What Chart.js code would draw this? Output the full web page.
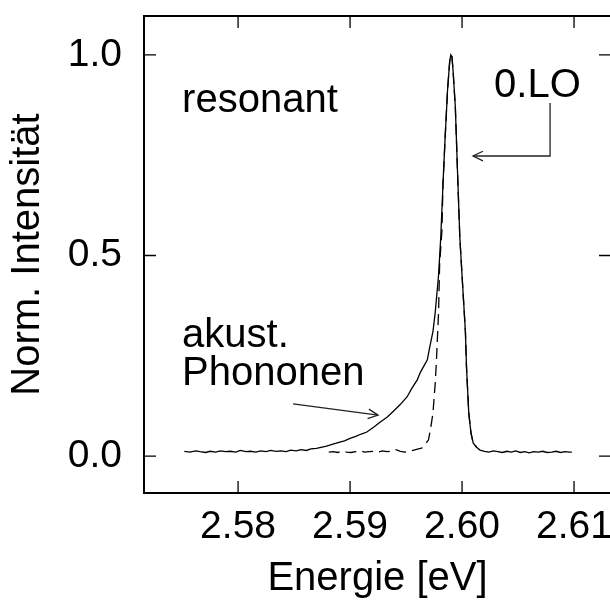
<!DOCTYPE html>
<html>
<head>
<meta charset="utf-8">
<script src="https://cdn.jsdelivr.net/npm/chart.js@4.4.1/dist/chart.umd.min.js"></script>
<style>
  html, body { margin: 0; padding: 0; background: #fff; overflow: hidden; }
</style>
</head>
<body>
<canvas id="plot" width="660" height="601"></canvas>
<script>
// tick labels
const xTicks = [2.58, 2.59, 2.60, 2.61];
const yTicks = [0.0, 0.5, 1.0];

// resonant spectrum (solid)
const solidE = [2.5752, 2.5757, 2.5762, 2.5766, 2.5771, 2.5775, 2.5780, 2.5784, 2.5789, 2.5793,
  2.5798, 2.5802, 2.5807, 2.5811, 2.5816, 2.5820, 2.5825, 2.5829, 2.5834, 2.5838,
  2.5843, 2.5847, 2.5852, 2.5856, 2.5861, 2.5865, 2.5870, 2.5874, 2.5879, 2.5884,
  2.5890, 2.5895, 2.5900, 2.5905, 2.5910, 2.5915, 2.5921, 2.5927, 2.5933, 2.5938,
  2.5945, 2.5951, 2.5955, 2.5960, 2.5963, 2.5966, 2.5969, 2.5971, 2.5974, 2.5976,
  2.5979, 2.5981, 2.5983, 2.5985, 2.5987, 2.5989, 2.5990, 2.5991, 2.5992, 2.5994,
  2.5996, 2.5998, 2.6000, 2.6003, 2.6004, 2.6006, 2.6008, 2.6010, 2.6013, 2.6016,
  2.6020, 2.6024, 2.6028, 2.6032, 2.6036, 2.6040, 2.6044, 2.6048, 2.6052, 2.6056,
  2.6060, 2.6064, 2.6068, 2.6072, 2.6076, 2.6080, 2.6084, 2.6088, 2.6092, 2.6096, 2.6098];
const solidI = [0.012, 0.010, 0.013, 0.011, 0.009, 0.012, 0.010, 0.013, 0.011, 0.012,
  0.010, 0.014, 0.011, 0.012, 0.010, 0.013, 0.011, 0.014, 0.012, 0.013,
  0.011, 0.015, 0.013, 0.016, 0.014, 0.018, 0.019, 0.022, 0.025, 0.029,
  0.034, 0.038, 0.044, 0.049, 0.055, 0.060, 0.072, 0.085, 0.097, 0.110,
  0.129, 0.148, 0.168, 0.190, 0.210, 0.225, 0.240, 0.270, 0.310, 0.357,
  0.450, 0.546, 0.680, 0.800, 0.910, 0.985, 1.000, 0.995, 0.960, 0.870,
  0.705, 0.546, 0.450, 0.310, 0.220, 0.107, 0.057, 0.032, 0.022, 0.015,
  0.012, 0.010, 0.013, 0.011, 0.009, 0.012, 0.010, 0.013, 0.009, 0.011,
  0.008, 0.011, 0.010, 0.012, 0.009, 0.010, 0.012, 0.009, 0.011, 0.010, 0.010];

// comparison spectrum (dashed)
const dashE = [2.5881, 2.5885, 2.5889, 2.5893, 2.5897, 2.5901, 2.5905, 2.5909, 2.5913, 2.5917,
  2.5921, 2.5925, 2.5929, 2.5933, 2.5937, 2.5941, 2.5945, 2.5949, 2.5953, 2.5957,
  2.5961, 2.5964, 2.5967, 2.5970, 2.5972, 2.5974, 2.5976, 2.5977, 2.5979, 2.5980,
  2.5982, 2.5983, 2.5985, 2.5987, 2.5989, 2.5990, 2.5991, 2.5992, 2.5994, 2.5996,
  2.5998, 2.6000, 2.6003, 2.6004, 2.6006, 2.6008, 2.6010, 2.6013];
const dashI = [0.010, 0.011, 0.009, 0.012, 0.010, 0.009, 0.011, 0.013, 0.010, 0.011,
  0.012, 0.010, 0.013, 0.011, 0.012, 0.016, 0.012, 0.010, 0.012, 0.015,
  0.018, 0.020, 0.030, 0.040, 0.070, 0.107, 0.180, 0.230, 0.357, 0.480,
  0.560, 0.680, 0.800, 0.910, 0.985, 1.000, 0.995, 0.960, 0.870, 0.705,
  0.546, 0.450, 0.310, 0.220, 0.107, 0.057, 0.032, 0.022];

const FONT = '"Liberation Sans", Arial, sans-serif';

const labels = [
  { text: 'resonant', x: 2.5750, y: 0.858 },
  { text: '0.LO', x: 2.60286, y: 0.896 },
  { text: 'akust.', x: 2.5750, y: 0.272 },
  { text: 'Phononen', x: 2.5750, y: 0.177 }
];
const arrows = [
  [[2.60786, 0.880], [2.60786, 0.748], [2.60098, 0.748]],
  [[2.58491, 0.130], [2.59250, 0.102]]
];

const framePlugin = {
  id: 'frame',
  afterDraw(chart) {
    const ctx = chart.ctx;
    const a = chart.chartArea;
    const xs = chart.scales.x, ys = chart.scales.y;
    ctx.save();
    ctx.strokeStyle = '#000';
    ctx.lineWidth = 2;
    ctx.strokeRect(a.left, a.top, a.right - a.left, a.bottom - a.top);
    ctx.lineWidth = 1.3;
    ctx.beginPath();
    xTicks.forEach(v => {
      const px = xs.getPixelForValue(v);
      ctx.moveTo(px, a.bottom); ctx.lineTo(px, a.bottom - 12);
      ctx.moveTo(px, a.top); ctx.lineTo(px, a.top + 12);
    });
    yTicks.forEach(v => {
      const py = ys.getPixelForValue(v);
      ctx.moveTo(a.left, py); ctx.lineTo(a.left + 12, py);
      ctx.moveTo(a.right, py); ctx.lineTo(a.right - 12, py);
    });
    ctx.stroke();

    // annotations
    ctx.fillStyle = '#000';
    ctx.font = '40px ' + FONT;
    ctx.textAlign = 'left';
    ctx.textBaseline = 'alphabetic';
    labels.forEach(l => ctx.fillText(l.text, xs.getPixelForValue(l.x), ys.getPixelForValue(l.y)));

    ctx.strokeStyle = '#222';
    ctx.lineWidth = 1.3;
    arrows.forEach(pts => {
      const p = pts.map(q => [xs.getPixelForValue(q[0]), ys.getPixelForValue(q[1])]);
      ctx.beginPath();
      ctx.moveTo(p[0][0], p[0][1]);
      for (let i = 1; i < p.length; i++) ctx.lineTo(p[i][0], p[i][1]);
      ctx.stroke();
      const [x1, y1] = p[p.length - 2], [x2, y2] = p[p.length - 1];
      const ang = Math.atan2(y2 - y1, x2 - x1);
      const len = 11, wid = 0.45;
      ctx.beginPath();
      ctx.moveTo(x2 - len * Math.cos(ang - wid), y2 - len * Math.sin(ang - wid));
      ctx.lineTo(x2, y2);
      ctx.lineTo(x2 - len * Math.cos(ang + wid), y2 - len * Math.sin(ang + wid));
      ctx.stroke();
    });
    ctx.restore();
  }
};

new Chart(document.getElementById('plot'), {
  type: 'scatter',
  data: {
    datasets: [{
      data: solidE.map((e, i) => ({ x: e, y: solidI[i] })),
      showLine: true,
      borderColor: '#000',
      borderWidth: 1.3,
      pointRadius: 0,
      tension: 0
    }, {
      data: dashE.map((e, i) => ({ x: e, y: dashI[i] })),
      showLine: true,
      borderColor: '#000',
      borderWidth: 1.3,
      borderDash: [11, 6],
      pointRadius: 0,
      tension: 0
    }]
  },
  options: {
    responsive: false,
    animation: false,
    layout: { padding: { top: 16, right: 49, left: 0, bottom: 0 } },
    plugins: { legend: { display: false }, tooltip: { enabled: false } },
    scales: {
      x: {
        type: 'linear',
        min: 2.5716,
        max: 2.6133,
        grid: { display: false, drawTicks: false },
        border: { display: false },
        afterBuildTicks: s => { s.ticks = xTicks.map(v => ({ value: v })); },
        afterFit: s => { s.height = 108; s.paddingLeft = 0; s.paddingRight = 0; },
        ticks: {
          padding: 11,
          color: '#000',
          font: { family: FONT, size: 39 },
          maxRotation: 0,
          callback: v => v.toFixed(2)
        },
        title: {
          display: true,
          text: 'Energie [eV]',
          color: '#000',
          font: { family: FONT, size: 40, lineHeight: 1 },
          padding: { top: 0, bottom: 2 }
        }
      },
      y: {
        min: -0.092,
        max: 1.097,
        grid: { display: false, drawTicks: false },
        border: { display: false },
        afterBuildTicks: s => { s.ticks = yTicks.map(v => ({ value: v })); },
        afterFit: s => { s.width = 144; s.paddingTop = 0; s.paddingBottom = 0; },
        ticks: {
          padding: 22,
          color: '#000',
          font: { family: FONT, size: 39 },
          callback: v => v.toFixed(1)
        },
        title: {
          display: true,
          text: 'Norm. Intensität',
          color: '#000',
          font: { family: FONT, size: 40, lineHeight: 1 },
          padding: { top: 8, bottom: 0 }
        }
      }
    }
  },
  plugins: [framePlugin]
});
</script>
</body>
</html>
